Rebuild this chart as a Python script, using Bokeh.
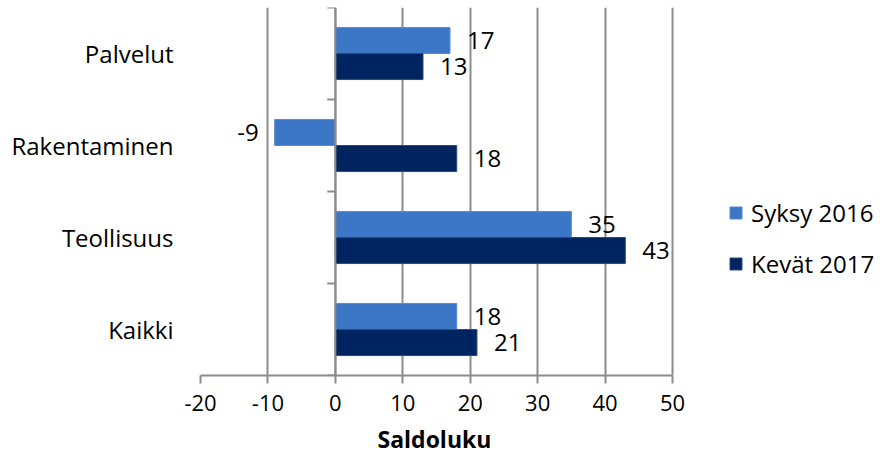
from bokeh.plotting import figure
from bokeh.models import (ColumnDataSource, Legend, LegendItem, Span, FixedTicker,
                          Range1d, Title)
from bokeh.core.properties import value
from bokeh.embed import file_html
from bokeh.resources import INLINE

categories = ["Kaikki", "Teollisuus", "Rakentaminen", "Palvelut"]
syksy_2016 = [18, 35, -9, 17]
kevat_2017 = [21, 43, 18, 13]
series_names = ["Syksy 2016", "Kevät 2017"]
x_ticks = [-20, -10, 0, 10, 20, 30, 40, 50]
axis_title = "Saldoluku"

LIGHT = "#3B77C6"
DARK = "#002460"
GRID = "#8C8C8C"
FONT = "Open Sans"

n = len(categories)
bar_h = 0.283
centers = [i + 0.5 for i in range(n)]

src1 = ColumnDataSource(dict(
    y=[c + bar_h / 2 for c in centers], right=syksy_2016,
    lab=[str(v) for v in syksy_2016],
    off=[17 if v >= 0 else -16 for v in syksy_2016],
    align=["left" if v >= 0 else "right" for v in syksy_2016]))
src2 = ColumnDataSource(dict(
    y=[c - bar_h / 2 for c in centers], right=kevat_2017,
    lab=[str(v) for v in kevat_2017],
    off=[17 if v >= 0 else -16 for v in kevat_2017],
    align=["left" if v >= 0 else "right" for v in kevat_2017]))

x_lo, x_hi = x_ticks[0], x_ticks[-1]
frame_w = 884 - 200 - 4
x_end = x_lo + frame_w * (x_hi - x_lo) / 472.0

p = figure(width=884, height=463, output_backend="svg", toolbar_location=None,
           x_range=Range1d(x_lo, x_end), y_range=Range1d(0, n),
           min_border_left=200, min_border_right=4, min_border_top=7,
           min_border_bottom=88)
p.outline_line_color = None
p.background_fill_color = "white"

r1 = p.hbar(y="y", left=0, right="right", height=bar_h, source=src1,
            fill_color=LIGHT, line_color="#5A8AD0", line_width=1)
r2 = p.hbar(y="y", left=0, right="right", height=bar_h, source=src2,
            fill_color=DARK, line_color="#2C4A80", line_width=1)

for src in (src1, src2):
    p.text(x="right", y="y", text="lab", source=src, x_offset="off",
           text_align="align", text_baseline="middle",
           text_font=value(FONT), text_font_size="24px", text_color="black")

# vertical axis line at zero with category boundary ticks
p.add_layout(Span(location=0, dimension="height", line_color=GRID, line_width=2))
bounds_y = list(range(n + 1))
p.segment(x0=[-1.2] * len(bounds_y), x1=[0] * len(bounds_y), y0=bounds_y, y1=bounds_y,
          line_color=GRID, line_width=2)

# x axis
p.xaxis.ticker = FixedTicker(ticks=x_ticks)
p.xaxis.major_label_overrides = {t: str(t) for t in x_ticks}
p.xaxis.bounds = (x_lo, x_hi)
p.xaxis.axis_line_color = GRID
p.xaxis.axis_line_width = 2
p.xaxis.major_tick_line_color = GRID
p.xaxis.major_tick_line_width = 2
p.xaxis.major_tick_out = 8
p.xaxis.major_tick_in = 0
p.xaxis.minor_tick_line_color = None
p.xaxis.major_label_text_font = FONT
p.xaxis.major_label_text_font_size = "22px"
p.xaxis.major_label_text_color = "black"
p.xaxis.major_label_standoff = 11

p.xgrid.ticker = FixedTicker(ticks=x_ticks)
p.xgrid.bounds = (x_lo, x_hi)
p.xgrid.grid_line_color = GRID
p.xgrid.grid_line_width = 2
p.ygrid.grid_line_color = None

# axis title centred under the axis span (offset from the frame's left edge)
title = Title(text=axis_title, align="left", offset=177, standoff=15,
              text_font=FONT, text_font_size="23px", text_font_style="bold",
              text_color="black")
p.add_layout(title, "below")

# y axis: category labels
p.yaxis.ticker = FixedTicker(ticks=centers)
p.yaxis.major_label_overrides = {c: lab for c, lab in zip(centers, categories)}
p.yaxis.axis_line_color = None
p.yaxis.major_tick_line_color = None
p.yaxis.minor_tick_line_color = None
p.yaxis.major_label_standoff = 21
p.yaxis.major_label_text_font = FONT
p.yaxis.major_label_text_font_size = "24px"
p.yaxis.major_label_text_color = "black"

legend = Legend(items=[LegendItem(label=series_names[0], renderers=[r1]),
                       LegendItem(label=series_names[1], renderers=[r2])],
                location=(528, 95))
legend.border_line_color = None
legend.background_fill_alpha = 0
legend.glyph_width = 15
legend.glyph_height = 15
legend.label_standoff = 8
legend.spacing = 18
legend.padding = 2
legend.label_text_font = FONT
legend.label_text_font_size = "24px"
legend.label_text_color = "black"
p.add_layout(legend)

open("out.html", "w").write(file_html(p, INLINE))
